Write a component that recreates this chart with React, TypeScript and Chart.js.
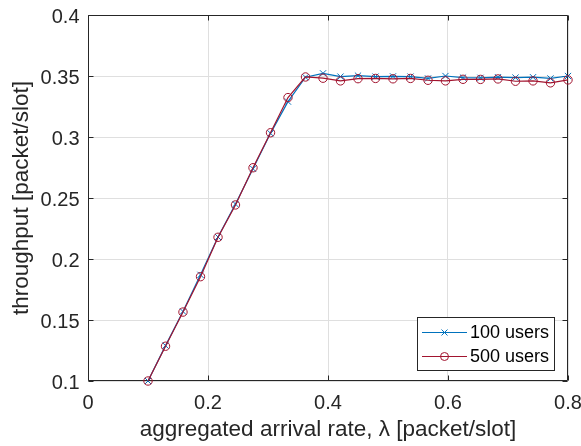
import React, { useEffect, useRef } from "react";
import { Chart, registerables } from "chart.js";

Chart.register(...registerables);

// ---- data ----
const lambdaValues = [
  0.1, 0.1292, 0.1583, 0.1875, 0.2167, 0.2458, 0.275, 0.3042, 0.3333, 0.3625,
  0.3917, 0.4208, 0.45, 0.4792, 0.5083, 0.5375, 0.5667, 0.5958, 0.625, 0.6542,
  0.6833, 0.7125, 0.7417, 0.7708, 0.8,
];
const throughput100 = [
  0.1, 0.129, 0.157, 0.187, 0.218, 0.245, 0.274, 0.303, 0.329, 0.349,
  0.3522, 0.3495, 0.3503, 0.3495, 0.3497, 0.3495, 0.348, 0.35, 0.3487, 0.3485,
  0.349, 0.3487, 0.349, 0.348, 0.35,
];
const throughput500 = [
  0.1, 0.1285, 0.1565, 0.1855, 0.2178, 0.2443, 0.2748, 0.3035, 0.3323, 0.3492,
  0.3482, 0.346, 0.3478, 0.348, 0.3477, 0.348, 0.3465, 0.346, 0.3473, 0.3472,
  0.3476, 0.3457, 0.346, 0.3444, 0.3468,
];
const seriesNames = ["100 users", "500 users"];
const xTickValues = [0, 0.2, 0.4, 0.6, 0.8];
const xTickLabels = ["0", "0.2", "0.4", "0.6", "0.8"];
const yTickValues = [0.1, 0.15, 0.2, 0.25, 0.3, 0.35, 0.4];
const yTickLabels = ["0.1", "0.15", "0.2", "0.25", "0.3", "0.35", "0.4"];
const xTitle = "aggregated arrival rate, λ [packet/slot]";
const yTitle = "throughput [packet/slot]";

// ---- style ----
const FONT = "'Liberation Sans', Arial, Helvetica, sans-serif";
const BLUE = "#0072BD";
const RED = "#A2142F";
const AXIS = "#262626";
const GRID = "#dfdfdf";

function drawMarker(ctx: CanvasRenderingContext2D, kind: string, x: number, y: number, color: string) {
  ctx.save();
  ctx.strokeStyle = color;
  ctx.lineWidth = 1;
  ctx.beginPath();
  if (kind === "x") {
    const h = 3;
    ctx.moveTo(x - h, y - h);
    ctx.lineTo(x + h, y + h);
    ctx.moveTo(x - h, y + h);
    ctx.lineTo(x + h, y - h);
  } else {
    ctx.arc(x, y, 4, 0, Math.PI * 2);
  }
  ctx.stroke();
  ctx.restore();
}

const framePlugin = {
  id: "matlabFrame",
  beforeDatasetsDraw(chart: any) {
    const { ctx, chartArea } = chart;
    const xs = chart.scales.x;
    const ys = chart.scales.y;
    const l = Math.round(chartArea.left) + 0.5;
    const r = Math.round(chartArea.right) - 0.5;
    const t = Math.round(chartArea.top) + 0.5;
    const b = Math.round(chartArea.bottom) - 0.5;
    ctx.save();
    ctx.strokeStyle = AXIS;
    ctx.lineWidth = 1;
    ctx.beginPath();
    ctx.rect(l, t, r - l, b - t);
    const tl = 5;
    xTickValues.forEach((v) => {
      const px = Math.round(xs.getPixelForValue(v)) + 0.5;
      ctx.moveTo(px, b);
      ctx.lineTo(px, b - tl);
      ctx.moveTo(px, t);
      ctx.lineTo(px, t + tl);
    });
    yTickValues.forEach((v) => {
      const py = Math.round(ys.getPixelForValue(v)) + 0.5;
      ctx.moveTo(l, py);
      ctx.lineTo(l + tl, py);
      ctx.moveTo(r, py);
      ctx.lineTo(r - tl, py);
    });
    ctx.stroke();
    ctx.restore();
  },
};

const legendPlugin = {
  id: "matlabLegend",
  afterDraw(chart: any) {
    const { ctx } = chart;
    const bx = 417.5, by = 317.5, bw = 137, bh = 53;
    ctx.save();
    ctx.fillStyle = "#ffffff";
    ctx.fillRect(bx, by, bw, bh);
    ctx.strokeStyle = AXIS;
    ctx.lineWidth = 1;
    ctx.strokeRect(bx, by, bw, bh);
    const rows = [
      { name: seriesNames[0], color: BLUE, marker: "x", y: 332.5 },
      { name: seriesNames[1], color: RED, marker: "o", y: 356.5 },
    ];
    rows.forEach((row) => {
      ctx.strokeStyle = row.color;
      ctx.lineWidth = 1.2;
      ctx.beginPath();
      ctx.moveTo(422, row.y);
      ctx.lineTo(467, row.y);
      ctx.stroke();
      drawMarker(ctx, row.marker, 444.5, row.y, row.color);
      ctx.fillStyle = "#000000";
      ctx.font = `18px ${FONT}`;
      ctx.textAlign = "left";
      ctx.textBaseline = "middle";
      ctx.fillText(row.name, 470, row.y + 1);
    });
    ctx.restore();
  },
};

export default function App() {
  const canvasRef = useRef<HTMLCanvasElement | null>(null);

  useEffect(() => {
    if (!canvasRef.current) return;
    const chart = new Chart(canvasRef.current, {
      type: "line",
      data: {
        datasets: [
          {
            label: seriesNames[0],
            data: lambdaValues.map((x, i) => ({ x, y: throughput100[i] })),
            borderColor: BLUE,
            backgroundColor: "transparent",
            borderWidth: 1.2,
            pointStyle: "crossRot",
            pointRadius: 4.4,
            pointBorderWidth: 1,
            pointBorderColor: BLUE,
            pointBackgroundColor: "transparent",
            tension: 0,
            clip: false,
            order: 1,
          },
          {
            label: seriesNames[1],
            data: lambdaValues.map((x, i) => ({ x, y: throughput500[i] })),
            borderColor: RED,
            backgroundColor: "transparent",
            borderWidth: 1.2,
            pointStyle: "circle",
            pointRadius: 4.2,
            pointBorderWidth: 1,
            pointBorderColor: RED,
            pointBackgroundColor: "transparent",
            tension: 0,
            clip: false,
            order: 0,
          },
        ],
      },
      options: {
        animation: false,
        responsive: false,
        maintainAspectRatio: false,
        devicePixelRatio: 1,
        layout: { padding: { top: 15, right: 13, left: 0, bottom: 0 } },
        plugins: {
          legend: { display: false },
          tooltip: { enabled: false },
        },
        scales: {
          x: {
            type: "linear",
            min: 0,
            max: 0.8,
            afterBuildTicks: (s: any) => {
              s.ticks = xTickValues.map((v) => ({ value: v }));
            },
            afterFit: (s: any) => {
              s.height = 65;
              s.paddingLeft = 0;
              s.paddingRight = 0;
            },
            ticks: {
              callback: (_v: any, i: number) => xTickLabels[i],
              font: { family: FONT, size: 20 },
              color: AXIS,
              padding: 10,
              maxRotation: 0,
              autoSkip: false,
            },
            grid: { color: GRID, drawTicks: false, lineWidth: 1 },
            border: { display: false },
            title: {
              display: true,
              text: xTitle,
              font: { family: FONT, size: 22.5 },
              color: AXIS,
              padding: { top: 0, bottom: 3 },
            },
          },
          y: {
            type: "linear",
            min: 0.1,
            max: 0.4,
            afterBuildTicks: (s: any) => {
              s.ticks = yTickValues.map((v) => ({ value: v }));
            },
            afterFit: (s: any) => {
              s.width = 88;
              s.paddingTop = 0;
              s.paddingBottom = 0;
            },
            ticks: {
              callback: (_v: any, i: number) => yTickLabels[i],
              font: { family: FONT, size: 20 },
              color: AXIS,
              padding: 8.5,
              labelOffset: 2.5,
              autoSkip: false,
            },
            grid: { color: GRID, drawTicks: false, lineWidth: 1 },
            border: { display: false },
            title: {
              display: true,
              text: yTitle,
              font: { family: FONT, size: 22.5 },
              color: AXIS,
              padding: { top: 8, bottom: 0 },
            },
          },
        },
      },
      plugins: [framePlugin, legendPlugin],
    } as any);
    return () => chart.destroy();
  }, []);

  return (
    <div style={{ position: "absolute", left: 0, top: 0, width: 581, height: 446, background: "#fff" }}>
      <canvas ref={canvasRef} width={581} height={446} style={{ display: "block" }} />
    </div>
  );
}
